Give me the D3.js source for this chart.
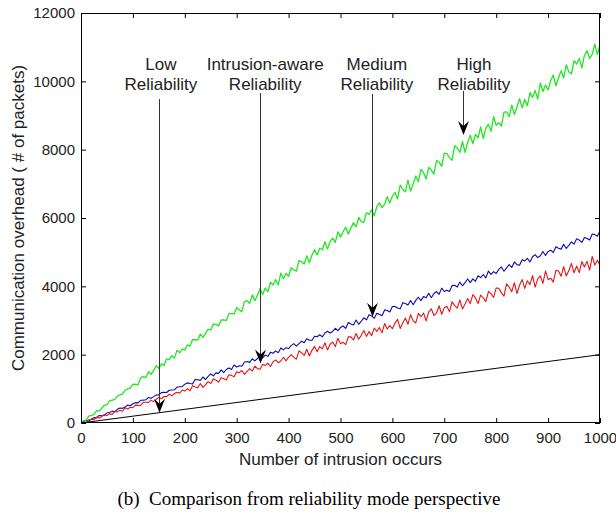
<!DOCTYPE html>
<html><head><meta charset="utf-8">
<script src="https://cdn.jsdelivr.net/npm/d3@7"></script>
<style>body{margin:0;background:#fff} svg{display:block}</style>
</head><body><svg id="c" width="616" height="515"></svg>
<script>
// ---- data ----
const intrusions = [0,5,10,15,20,25,30,35,40,45,50,55,60,65,70,75,80,85,90,95,100,105,110,115,120,125,130,135,140,145,150,155,160,165,170,175,180,185,190,195,200,205,210,215,220,225,230,235,240,245,250,255,260,265,270,275,280,285,290,295,300,305,310,315,320,325,330,335,340,345,350,355,360,365,370,375,380,385,390,395,400,405,410,415,420,425,430,435,440,445,450,455,460,465,470,475,480,485,490,495,500,505,510,515,520,525,530,535,540,545,550,555,560,565,570,575,580,585,590,595,600,605,610,615,620,625,630,635,640,645,650,655,660,665,670,675,680,685,690,695,700,705,710,715,720,725,730,735,740,745,750,755,760,765,770,775,780,785,790,795,800,805,810,815,820,825,830,835,840,845,850,855,860,865,870,875,880,885,890,895,900,905,910,915,920,925,930,935,940,945,950,955,960,965,970,975,980,985,990,995,1000];
const highReliability = [0,71,82,201,224,255,362,349,432,519,534,645,672,683,790,821,844,963,998,1021,1136,1128,1120,1319,1356,1330,1502,1422,1540,1676,1596,1732,1688,1878,1852,1970,1899,2125,2054,2163,2137,2291,2247,2446,2429,2430,2602,2504,2622,2749,2714,2895,2887,2843,3015,3016,2999,3198,3208,3191,3381,3310,3260,3555,3580,3500,3750,3580,3740,3930,3760,3950,3840,4120,4040,4200,4045,4385,4230,4375,4295,4545,4480,4445,4755,4720,4655,4890,4690,4910,5070,4915,5120,5070,5305,5090,5310,5410,5285,5595,5440,5600,5730,5530,5705,5865,5740,6020,5895,5875,6155,6105,6235,6065,6330,6445,6305,6405,6625,6440,6645,6743,6556,6963,6842,6765,7106,6787,6996,7227,7062,7425,7326,7139,7480,7403,7282,7689,7634,7513,7898,7887,7766,7689,8118,8041,7920,8239,7920,8217,8426,8173,8448,8349,8668,8327,8624,8745,8536,8965,8712,8789,8690,9097,9108,8965,9306,9031,9240,9493,9218,9471,9284,9669,9526,9735,9482,9955,9702,9889,9746,10021,10186,9867,10098,10307,10098,10483,10274,10219,10604,10505,10670,10395,10758,10901,10670,10791,11088,10791,11066];
const intrusionAwareReliability = [0,37,80,56,108,157,149,221,213,226,299,305,348,331,401,440,429,466,527,506,564,595,590,665,669,679,746,722,771,823,821,890,897,892,959,968,972,1048,1061,1064,1137,1174,1154,1145,1275,1267,1247,1346,1272,1366,1436,1379,1467,1453,1553,1472,1566,1612,1568,1697,1641,1675,1661,1784,1800,1774,1880,1817,1887,1969,1907,1988,1950,2068,2042,2111,2055,2197,2141,2204,2178,2266,2324,2249,2325,2395,2351,2468,2424,2422,2540,2525,2583,2521,2633,2684,2634,2680,2774,2705,2793,2839,2768,2939,2895,2869,3014,2888,2979,3079,3017,3170,3135,3064,3209,3182,3138,3310,3293,3248,3411,3412,3368,3341,3522,3496,3452,3587,3462,3589,3680,3581,3699,3664,3800,3665,3792,3847,3767,3947,3849,3886,3851,4022,4032,3979,4124,4016,4107,4216,4109,4217,4146,4309,4256,4346,4248,4447,4349,4430,4377,4495,4568,4442,4542,4633,4553,4715,4635,4618,4781,4745,4818,4711,4865,4928,4839,4894,5021,4904,5022,5059,4988,5159,5115,5089,5234,5108,5199,5299,5237,5390,5355,5284,5429,5402,5358,5530,5513,5468,5631];
const mediumReliability = [0,12,8,95,111,99,175,138,190,250,214,273,253,337,325,376,344,444,412,459,447,523,515,514,606,606,598,669,625,693,745,712,776,772,844,795,863,899,875,966,934,1006,942,1093,1053,1029,1157,1044,1124,1212,1156,1291,1259,1195,1323,1298,1258,1410,1394,1353,1497,1473,1537,1424,1512,1592,1520,1663,1591,1575,1719,1686,1750,1654,1790,1845,1765,1813,1925,1820,1924,2002,1922,1867,2112,2058,1978,2157,1960,2127,2242,2083,2237,2170,2350,2139,2306,2369,2237,2481,2323,2360,2293,2524,2522,2429,2622,2450,2565,2706,2535,2675,2556,2775,2682,2796,2638,2909,2751,2852,2759,2925,3034,2768,2928,3071,2891,3169,2989,2928,3207,3111,3220,2989,3251,3342,3145,3220,3431,3182,3376,3417,3254,3549,3437,3359,3604,3338,3481,3641,3495,3756,3661,3498,3743,3664,3552,3848,3787,3674,3953,3944,3808,3711,4075,3979,3843,4106,3790,4034,4198,3941,4165,4049,4313,3976,4220,4304,4088,4451,4195,4239,4123,4466,4450,4294,4578,4301,4465,4669,4393,4596,4400,4724,4568,4731,4475,4879,4623,4766,4610];
const lowIntrusions = [0,1000];
const lowReliability = [0,2000];
const xTickValues = [0,100,200,300,400,500,600,700,800,900,1000];
const yTickValues = [0,2000,4000,6000,8000,10000,12000];
const xLabel = "Number of intrusion occurs";
const yLabel = "Communication overhead ( # of packets)";
const caption = "(b)\u00a0\u00a0Comparison from reliability mode perspective";
const annotations = [
  {lines:["Low","Reliability"], textX:154, textY:10330, arrowX:150, fromY:9480, toY:300},
  {lines:["Intrusion-aware","Reliability"], textX:355, textY:10330, arrowX:345, fromY:9660, toY:1740},
  {lines:["Medium","Reliability"], textX:570, textY:10330, arrowX:560, fromY:9630, toY:3110},
  {lines:["High","Reliability"], textX:757, textY:10330, arrowX:736, fromY:9720, toY:8430}
];

// ---- drawing ----
const svg = d3.select("#c");
const L = 81, R = 600, T = 13, B = 423;
const x = d3.scaleLinear().domain([0,1000]).range([L,R]);
const y = d3.scaleLinear().domain([0,12000]).range([B,T]);
const font = "'Liberation Sans', Arial, Helvetica, sans-serif";

svg.append("clipPath").attr("id","pc").append("rect")
  .attr("x",L).attr("y",T).attr("width",R-L).attr("height",B-T);

const line = d3.line().x(d=>x(d[0])).y(d=>y(d[1]));
const series = [
  {vals:intrusionAwareReliability, xs:intrusions, color:"#0c0cb0", w:1.1},
  {vals:mediumReliability, xs:intrusions, color:"#e61414", w:1.1},
  {vals:highReliability, xs:intrusions, color:"#22e622", w:1.3},
  {vals:lowReliability, xs:lowIntrusions, color:"#000000", w:1}
];
const g = svg.append("g").attr("clip-path","url(#pc)");
series.forEach(s=>{
  g.append("path").datum(s.xs.map((v,i)=>[v,s.vals[i]]))
    .attr("d",line).attr("fill","none").attr("stroke",s.color)
    .attr("stroke-width",s.w).attr("stroke-linejoin","round");
});

// axes
function styleAxis(sel){
  sel.selectAll("path.domain").remove();
  sel.selectAll("line").attr("stroke","#000");
  sel.selectAll("text").attr("font-family",font).attr("font-size",15).attr("fill","#222");
}
svg.append("g").attr("transform",`translate(0,${B})`)
  .call(d3.axisBottom(x).tickValues(xTickValues).tickSize(-5).tickPadding(9).tickFormat(d3.format("d")))
  .call(styleAxis);
svg.append("g").attr("transform",`translate(0,${T})`)
  .call(d3.axisTop(x).tickValues(xTickValues).tickSize(-5).tickFormat(""))
  .call(styleAxis);
svg.append("g").attr("transform",`translate(${L},0)`)
  .call(d3.axisLeft(y).tickValues(yTickValues).tickSize(-5).tickPadding(6).tickFormat(d3.format("d")))
  .call(styleAxis);
svg.append("g").attr("transform",`translate(${R},0)`)
  .call(d3.axisRight(y).tickValues(yTickValues).tickSize(-5).tickFormat(""))
  .call(styleAxis);
svg.append("rect").attr("x",L+0.5).attr("y",T+0.5).attr("width",R-L-1).attr("height",B-T-1)
  .attr("fill","none").attr("stroke","#000").attr("stroke-width",1);

// labels
svg.append("text").attr("x",(L+R)/2).attr("y",465).attr("text-anchor","middle")
  .attr("font-family",font).attr("font-size",17).attr("fill","#222").text(xLabel);
svg.append("text").attr("transform",`translate(24,${(T+B)/2}) rotate(-90)`).attr("text-anchor","middle")
  .attr("font-family",font).attr("font-size",17).attr("fill","#222").text(yLabel);
svg.append("text").attr("x",309).attr("y",505).attr("text-anchor","middle")
  .attr("font-family","'Liberation Serif','Times New Roman',serif").attr("font-size",19).attr("fill","#000").text(caption);

// annotations
annotations.forEach(a=>{
  const t = svg.append("text").attr("text-anchor","middle")
    .attr("font-family",font).attr("font-size",17).attr("fill","#222");
  a.lines.forEach((ln,i)=>{
    t.append("tspan").attr("x",x(a.textX)).attr("y",y(a.textY)+i*20).text(ln);
  });
  const ax = Math.round(x(a.arrowX))+0.5;
  svg.append("line").attr("x1",ax).attr("x2",ax).attr("y1",y(a.fromY)).attr("y2",y(a.toY)-6)
    .attr("stroke","#333").attr("stroke-width",1);
  svg.append("path").attr("transform",`translate(${ax},${y(a.toY)})`)
    .attr("d","M0,0 L-5.5,-14 L0,-9 L5.5,-14 Z").attr("fill","#000");
});
</script></body></html>
